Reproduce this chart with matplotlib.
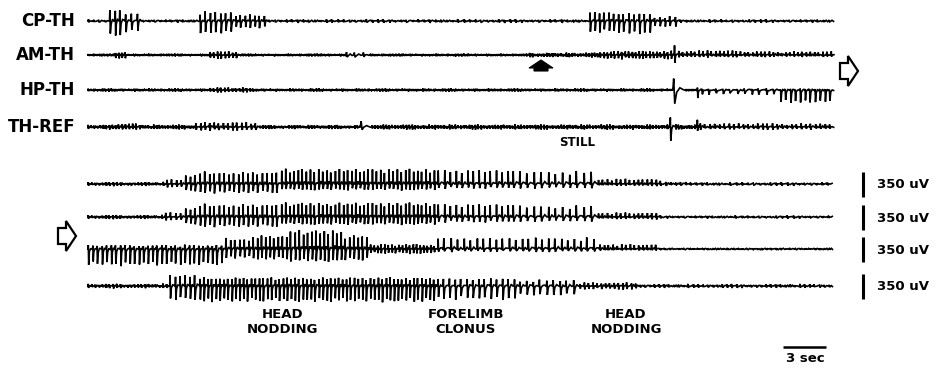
import matplotlib.pyplot as plt
from matplotlib.patches import Polygon

# EEG traces, each segment = (end time in s, rhythm in Hz, spike up uV, spike down uV)
cp_th = [(1.5, 2.5, 16, 16), (2.6, 2.8, 150, 210), (3.8, 2.8, 100, 140), (7.8, 2.5, 16, 16),
         (10.3, 2.9, 120, 170), (12.6, 3.0, 80, 90), (35.0, 2.5, 18, 18), (37.0, 2.9, 120, 150),
         (39.5, 2.8, 100, 170), (41.3, 2.6, 60, 80), (52.1, 2.5, 16, 16)]
am_th = [(1.9, 5, 10, 10), (2.8, 4, 42, 50), (8.5, 5, 11, 11), (10.6, 4, 45, 50),
         (18.0, 5, 11, 11), (19.7, 1.5, 42, 35), (30.8, 5, 11, 11), (35.7, 5, 25, 25),
         (40.9, 4, 50, 50), (41.2, 3.3, 140, 110), (45.5, 3.5, 60, 28), (52.1, 3.5, 45, 21)]
hp_th = [(8.5, 5, 14, 14), (11.3, 4, 30, 30), (40.8, 5, 14, 14), (41.7, 1.1, 150, 190),
         (42.5, 5, 14, 14), (42.8, 3.3, 28, 130), (48.3, 2.0, 14, 60), (52.1, 2.8, 14, 175)]
th_ref = [(2.1, 5, 25, 25), (3.6, 4, 50, 35), (7.5, 5, 25, 25), (12.0, 3, 60, 45),
          (19.0, 5, 21, 21), (19.8, 1.3, 80, 30), (40.6, 5, 28, 28), (41.0, 2.5, 165, 180),
          (42.5, 5, 28, 28), (42.7, 4, 110, 60), (52.1, 3, 45, 30)]

seiz_1 = [(5.5, 4, 21, 21), (6.8, 2.9, 60, 45), (7.8, 2.9, 120, 100), (13.5, 2.9, 160, 120),
          (24.4, 3.5, 200, 80), (30.1, 2.4, 190, 60), (35.6, 2.0, 170, 56), (39.9, 3.3, 65, 21),
          (42.0, 3, 35, 21), (52.0, 2.5, 18, 18)]
seiz_2 = [(5.4, 4, 21, 21), (6.8, 2.9, 60, 45), (7.8, 2.9, 120, 100), (13.5, 2.9, 170, 130),
          (24.4, 3.5, 190, 100), (30.1, 2.4, 175, 70), (35.6, 2.0, 150, 60), (39.9, 3.3, 55, 25),
          (52.0, 2.5, 14, 14)]
seiz_3 = [(9.6, 3.1, 50, 220), (11.5, 3.0, 140, 120), (14.1, 3.3, 180, 140), (17.9, 3.5, 250, 170),
          (19.7, 3.5, 180, 150), (24.4, 4, 60, 60), (35.7, 2.2, 150, 35), (39.9, 3.3, 60, 14),
          (52.0, 3, 7, 7)]
seiz_4 = [(5.7, 4, 25, 25), (7.8, 3.0, 150, 190), (24.4, 3.6, 110, 210), (30.1, 2.4, 100, 180),
          (34.3, 2.2, 80, 130), (38.5, 3.3, 42, 42), (52.0, 3, 21, 21)]

top_names = ['CP-TH', 'AM-TH', 'HP-TH', 'TH-REF']
top_traces = [cp_th, am_th, hp_th, th_ref]
bottom_traces = [seiz_1, seiz_2, seiz_3, seiz_4]
behaviour = ['HEAD\nNODDING', 'FORELIMB\nCLONUS', 'HEAD\nNODDING']

# one spike-wave cycle: phase in cycle, weight of up, weight of down
PHASE = [0.0, 0.07, 0.15, 0.3, 0.55, 0.8]
W_UP = [0, 1, 0, 0, 0.15, 0.05]
W_DOWN = [0, 0, 1, 0.2, 0, 0]
# cycle to cycle spread of heights and periods, as seen on the paper
SPREAD = [1.0, .86, .97, .8, 1.04, .9, .99, .83, .94, 1.02, .87, .96, .9, 1.05, .82, .92, .98]
JITTER = [1.0, .88, 1.12, .94, 1.07, .85, 1.15, .95, 1.05, .91, 1.1, .89, 1.02]
NOISE = [0, .5, -.3, .8, -.6, .2, -.9, .4, .7, -.2, -.7, .3, .9, -.5, .1, -.8, .6, -.1, .4, -.4, .8, -.9, .2]
NOISE_UV = 10

PX_PER_SEC = 43 / 3.0
UV_PER_PX = 14.0
X0 = 88


def build(segments):
    ts, vs = [], []
    t, k, c = 0.0, 0, 0
    for t_end, freq, up, down in segments:
        dur = t_end - t
        n = max(1, round(dur * freq))
        js = [JITTER[(c + i) % len(JITTER)] for i in range(n)]
        scale = dur / sum(js)
        for j in js:
            period = j * scale
            u = up * SPREAD[c % len(SPREAD)]
            d = down * SPREAD[(c + 6) % len(SPREAD)]
            for ph, wu, wd in zip(PHASE, W_UP, W_DOWN):
                ts.append(t + ph * period)
                vs.append(wu * u - wd * d + NOISE[k % len(NOISE)] * NOISE_UV)
                k += 1
            t += period
            c += 1
        t = t_end
    return ts, vs


def draw_trace(ax, segments, base_y):
    ts, vs = build(segments)
    xs = [X0 + t * PX_PER_SEC for t in ts]
    ys = [base_y - v / UV_PER_PX for v in vs]
    ax.plot(xs, ys, color='black', lw=1.2, solid_joinstyle='miter')


fig = plt.figure(figsize=(9.36, 3.70), dpi=100)
ax = fig.add_axes([0, 0, 1, 1])
ax.set_xlim(0, 936)
ax.set_ylim(370, 0)
ax.axis('off')

font = dict(family='DejaVu Sans', weight='bold', color='black')

for name, seg, y in zip(top_names, top_traces, [21, 55, 90, 127]):
    draw_trace(ax, seg, y)
    ax.text(75, y, name, ha='right', va='center', fontsize=12, **font)

for seg, y in zip(bottom_traces, [184, 217, 249, 286]):
    draw_trace(ax, seg, y)
    # 350 uV calibration bar
    h = 350 / UV_PER_PX
    ax.plot([863, 863], [y - h / 2, y + h / 2], color='black', lw=2.2, solid_capstyle='butt')
    ax.text(877, y + 1, '350 uV', ha='left', va='center', fontsize=9.5, **font)

for txt, x in zip(behaviour, [283, 466, 626]):
    ax.text(x, 322, txt, ha='center', va='center', fontsize=9.5, linespacing=1.25, **font)

ax.text(577, 143, 'STILL', ha='center', va='center', fontsize=8.5, **font)

# 3 sec time bar
ax.plot([783, 783 + 3 * PX_PER_SEC], [347, 347], color='black', lw=1.8, solid_capstyle='butt')
ax.text(805, 359, '3 sec', ha='center', va='center', fontsize=9.5, **font)

# filled arrow under AM-TH
ax.add_patch(Polygon([(529, 68), (541, 60), (553, 68), (548, 68), (548, 71), (534, 71), (534, 68)],
                     closed=True, facecolor='black', edgecolor='black', lw=0.8))


def open_arrow(x, y):
    pts = [(x, y - 8), (x + 8, y - 8), (x + 8, y - 15), (x + 18, y), (x + 8, y + 15),
           (x + 8, y + 8), (x, y + 8)]
    ax.add_patch(Polygon(pts, closed=True, facecolor='white', edgecolor='black', lw=1.6))


open_arrow(840, 71)
open_arrow(58, 236)

fig.savefig('out.png', dpi=100)
